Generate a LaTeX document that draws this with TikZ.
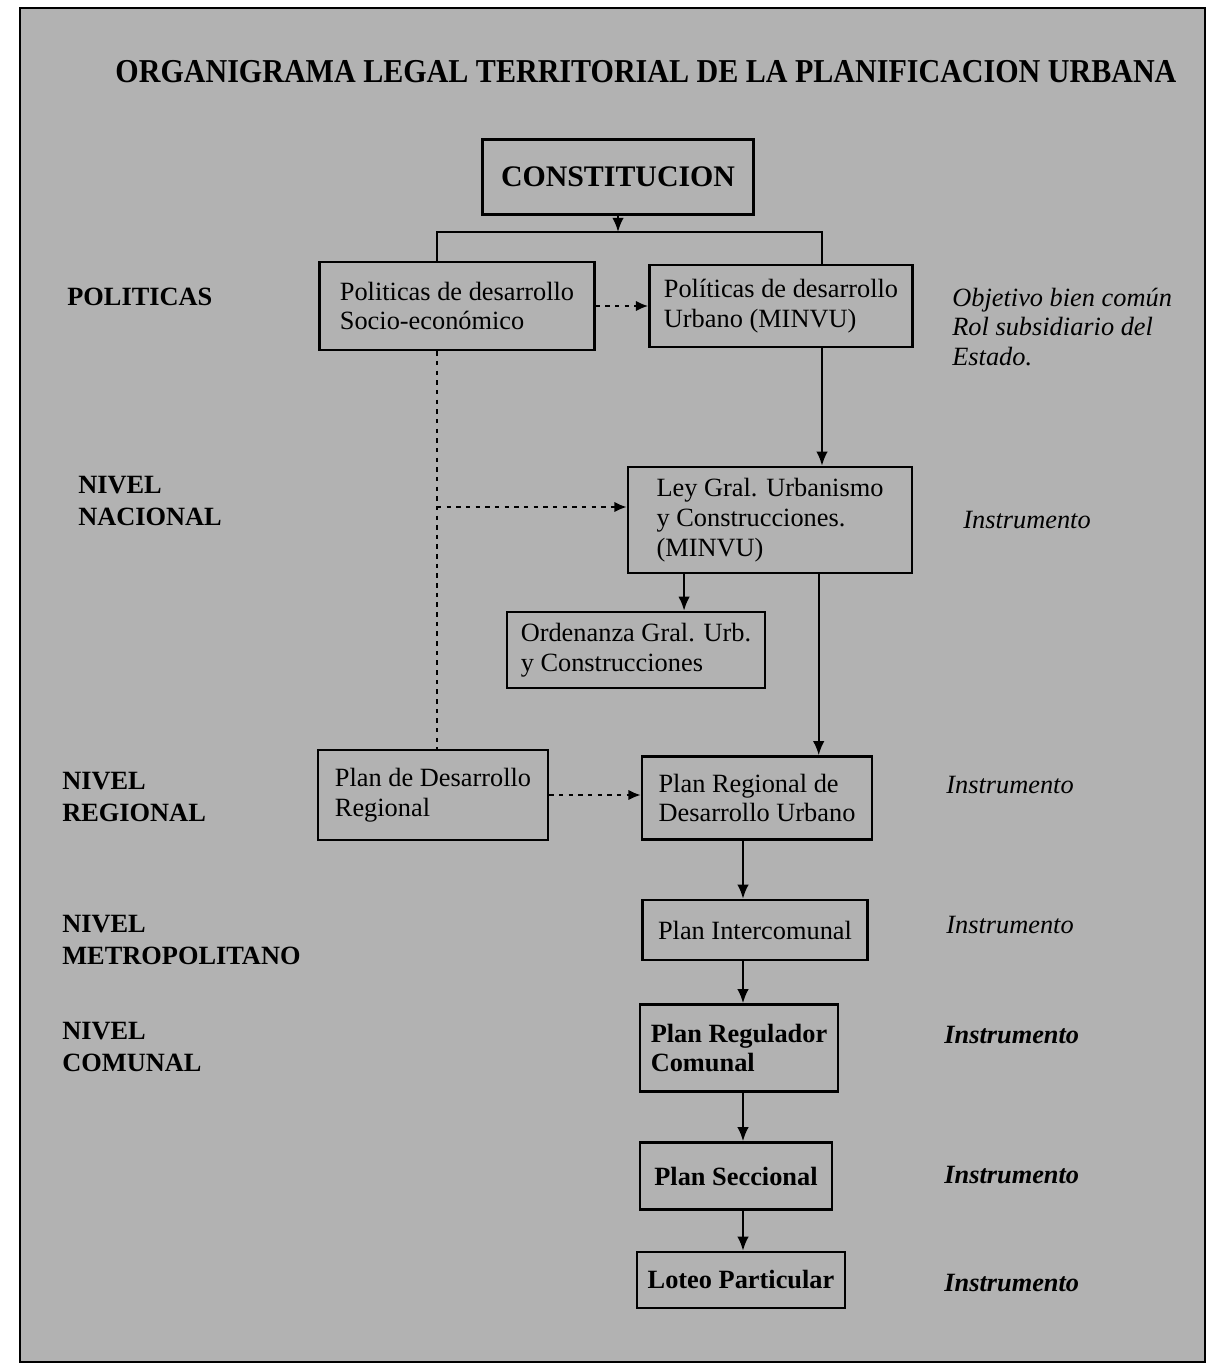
\documentclass[tikz,border=0pt]{standalone}
\usepackage{fontspec}
\setmainfont{Liberation Serif}
\usetikzlibrary{arrows,arrows.meta,calc}
\tikzstyle{box}=[draw,line width=1.4pt,inner sep=4pt,align=left,font=\fontsize{15}{17}\selectfont]
\tikzstyle{boldbox}=[box,font=\fontsize{15}{17}\selectfont\bfseries]
\tikzstyle{level}=[anchor=west,inner sep=0pt,align=left,font=\fontsize{15}{18}\selectfont\bfseries]
\tikzstyle{note}=[anchor=west,inner sep=0pt,align=left,font=\fontsize{15}{17}\selectfont\itshape]
\tikzstyle{edge} = [draw,line width=1.2pt,-{Latex[length=8pt,width=6.5pt]}]
\tikzstyle{dots} = [line width=1.3pt,dash pattern=on 2.5pt off 3pt]
\tikzstyle{dottededge} = [draw,dots,-{Latex[length=7pt,width=6pt]}]

\begin{document}
\begin{tikzpicture}[x=0.02cm, y=-0.02cm]

    % page and frame
    \useasboundingbox (0,0) rectangle (1221,1368);
    \draw[line width=1.5pt, fill=black!30] (20,8) rectangle (1205,1362);

    \node[font=\fontsize{19}{21}\selectfont\bfseries, xscale=0.9] (title) at (646,72)
        {ORGANIGRAMA LEGAL TERRITORIAL DE LA PLANIFICACION URBANA};

    % First we draw the boxes
    \node[box, font=\fontsize{17}{19}\selectfont\bfseries, minimum width=271*0.02cm, minimum height=75*0.02cm] (const) at (618,177) {CONSTITUCION};
    \foreach \pos/\name/\w/\h/\label in {{(457,306)/pols/275/88/{Politicas de desarrollo\\Socio-econ\'omico}},
        {(781,306)/polu/263/82/{Pol\'iticas de desarrollo\\Urbano (MINVU)}},
        {(770,520)/ley/284/106/{Ley Gral. Urbanismo\\y Construcciones.\\(MINVU)}},
        {(636,650)/ord/258/76/{Ordenanza Gral. Urb.\\y Construcciones}},
        {(433,795)/pdr/230/90/{Plan de Desarrollo\\Regional}},
        {(757,798)/preg/230/83/{Plan Regional de\\Desarrollo Urbano}},
        {(755,930)/pint/225/60/{Plan Intercomunal}}}
        \node[box, minimum width=\w*0.02cm, minimum height=\h*0.02cm] (\name) at \pos {\label};
    \foreach \pos/\name/\w/\h/\label in {{(739,1048)/preg2/198/87/{Plan Regulador\\Comunal}},
        {(736,1176)/psec/192/67/{Plan Seccional}},
        {(741,1280)/lote/208/56/{Loteo Particular}}}
        \node[boldbox, minimum width=\w*0.02cm, minimum height=\h*0.02cm] (\name) at \pos {\label};

    % Connect boxes
    \coordinate (barL) at (437,232);
    \coordinate (barR) at (822,232);
    \coordinate (jn) at (437,507);
    \coordinate (col) at (743,0);
    \coordinate (lo) at ($(ley.south west)!.2!(ley.south east)$);
    \coordinate (lr) at ($(ley.south west)!.67!(ley.south east)$);

    \path[edge] (const.south) -- (const.south |- barL);
    \draw[line width=1.2pt] (pols.north -| barL) -- (barL) -- (barR) -- (polu.north -| barR);
    \path[edge] (polu.south -| barR) -- (ley.north -| barR);
    \path[dottededge] (pols.east) -- (polu.west);
    \draw[dots] (pols.south -| barL) -- (pdr.north -| barL);
    \path[dottededge] (jn) -- (jn -| ley.west);
    \path[edge] (lo) -- (lo |- ord.north);
    \path[edge] (lr) -- (lr |- preg.north);
    \path[dottededge] (pdr.east) -- (pdr.east -| preg.west);
  \foreach \source/ \dest in {preg/pint, pint/preg2, preg2/psec, psec/lote}
          \path[edge] (\source.south -| col) -- (\dest.north -| col);

    % Levels on the left
  \foreach \pos/\label in {{(67,297)/POLITICAS}, {(78,501)/NIVEL\\NACIONAL}, {(62,797)/NIVEL\\REGIONAL},
        {(62,940)/NIVEL\\METROPOLITANO}, {(62,1047)/NIVEL\\COMUNAL}}
        \node[level] at \pos {\label};

    % Notes on the right
\node[note] (obj) at (952,327) {Objetivo bien com\'un\\Rol subsidiario del\\Estado.};
  \foreach \pos in {(963,520), (946,785), (946,925)}
        \node[note] at \pos {Instrumento};
  \foreach \pos in {(944,1035), (944,1175), (944,1283)}
        \node[note, font=\fontsize{15}{17}\selectfont\bfseries\itshape] at \pos {Instrumento};

\end{tikzpicture}
\end{document}
